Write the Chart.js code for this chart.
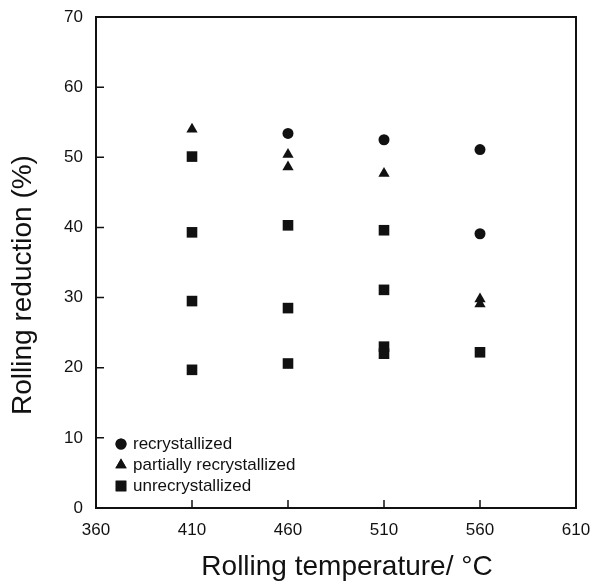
<!DOCTYPE html>
<html>
<head>
<meta charset="utf-8">
<script src="https://cdn.jsdelivr.net/npm/chart.js@4.4.1/dist/chart.umd.min.js"></script>
<style>
  html, body { margin: 0; padding: 0; background: #fff; }
  #wrap { width: 590px; height: 584px; position: relative; }
</style>
</head>
<body>
<div id="wrap"><canvas id="chart"></canvas></div>
<script>
// Data
const xTicks = [360, 410, 460, 510, 560, 610];
const yTicks = [0, 10, 20, 30, 40, 50, 60, 70];

const recrystX = [460, 510, 560, 560];
const recrystY = [53.4, 52.5, 51.1, 39.1];

const partialX = [410, 460, 460, 510, 560, 560];
const partialY = [54.0, 50.4, 48.6, 47.7, 29.8, 29.1];

const unrecrystX = [410, 410, 410, 410, 460, 460, 460, 510, 510, 510, 510, 560];
const unrecrystY = [50.1, 39.3, 29.5, 19.7, 40.3, 28.5, 20.6, 39.6, 31.1, 23.0, 22.0, 22.2];

const labels = ['recrystallized', 'partially recrystallized', 'unrecrystallized'];

const FONT = "'Liberation Sans', Arial, Helvetica, sans-serif";

function toPoints(xs, ys) {
  return xs.map((x, i) => ({ x: x, y: ys[i] }));
}

// Frame, inward ticks, axis titles and legend
const decorations = {
  id: 'decorations',
  afterDraw(chart) {
    const ctx = chart.ctx;
    const area = chart.chartArea;
    const xs = chart.scales.x;
    const ys = chart.scales.y;

    ctx.save();
    ctx.strokeStyle = '#111';
    ctx.lineWidth = 2;
    ctx.strokeRect(area.left, area.top, area.right - area.left, area.bottom - area.top);

    ctx.lineWidth = 1.5;
    ctx.beginPath();
    yTicks.forEach(v => {
      const py = ys.getPixelForValue(v);
      ctx.moveTo(area.left, py);
      ctx.lineTo(area.left + 8, py);
    });
    xTicks.forEach(v => {
      const px = xs.getPixelForValue(v);
      ctx.moveTo(px, area.bottom);
      ctx.lineTo(px, area.bottom - 8);
    });
    ctx.stroke();

    // axis titles
    ctx.fillStyle = '#111';
    ctx.font = '28px ' + FONT;
    ctx.textAlign = 'center';
    ctx.textBaseline = 'middle';
    ctx.fillText('Rolling temperature/ °C', 347, 567);

    ctx.save();
    ctx.translate(23, 285);
    ctx.rotate(-Math.PI / 2);
    ctx.fillText('Rolling reduction (%)', 0, 0);
    ctx.restore();

    // legend
    ctx.font = '17px ' + FONT;
    ctx.textAlign = 'left';
    chart.data.datasets.forEach((ds, i) => {
      const ly = 444 + i * 21;
      Chart.helpers.drawPoint(ctx, {
        pointStyle: ds.pointStyle,
        radius: ds.pointRadius,
        rotation: 0
      }, 121, ly);
      ctx.fillStyle = '#111';
      ctx.fill();
      ctx.fillText(ds.label, 133, ly);
    });
    ctx.restore();
  }
};

new Chart(document.getElementById('chart'), {
  type: 'scatter',
  data: {
    datasets: [
      {
        label: labels[0],
        data: toPoints(recrystX, recrystY),
        pointStyle: 'circle',
        pointRadius: 5.5,
        backgroundColor: '#111',
        borderColor: '#111',
        borderWidth: 0
      },
      {
        label: labels[1],
        data: toPoints(partialX, partialY),
        pointStyle: 'triangle',
        pointRadius: 6.5,
        backgroundColor: '#111',
        borderColor: '#111',
        borderWidth: 0
      },
      {
        label: labels[2],
        data: toPoints(unrecrystX, unrecrystY),
        pointStyle: 'rect',
        pointRadius: 7.5,
        backgroundColor: '#111',
        borderColor: '#111',
        borderWidth: 0
      }
    ]
  },
  options: {
    responsive: true,
    maintainAspectRatio: false,
    animation: false,
    layout: { padding: { left: 0, right: 14, top: 17, bottom: 0 } },
    plugins: {
      legend: { display: false },
      tooltip: { enabled: false }
    },
    scales: {
      x: {
        type: 'linear',
        min: 360,
        max: 610,
        afterBuildTicks: axis => { axis.ticks = xTicks.map(v => ({ value: v })); },
        afterFit: axis => {
          axis.height = 76;
          axis.paddingLeft = 0;
          axis.paddingRight = 0;
        },
        grid: { display: false },
        border: { display: false },
        ticks: {
          color: '#111',
          padding: 4,
          maxRotation: 0,
          font: { family: FONT, size: 17 }
        }
      },
      y: {
        type: 'linear',
        min: 0,
        max: 70,
        afterBuildTicks: axis => { axis.ticks = yTicks.map(v => ({ value: v })); },
        afterFit: axis => {
          axis.width = 96;
          axis.paddingTop = 0;
          axis.paddingBottom = 0;
        },
        grid: { display: false },
        border: { display: false },
        ticks: {
          color: '#111',
          padding: 5,
          font: { family: FONT, size: 17 }
        }
      }
    }
  },
  plugins: [decorations]
});
</script>
</body>
</html>
